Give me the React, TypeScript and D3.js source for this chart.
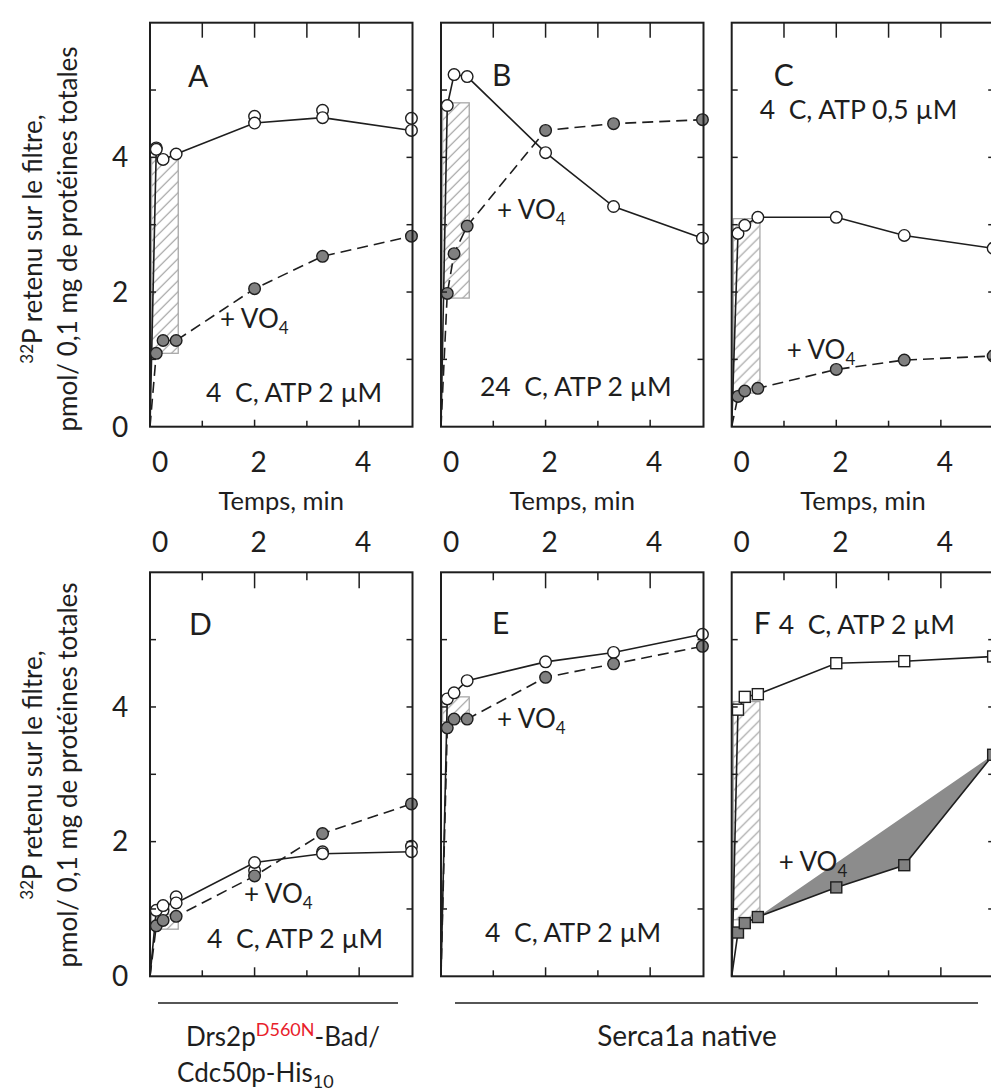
import React from 'react';
import * as d3 from 'd3';

// ---- data ----
const times = [0.12, 0.25, 0.5, 2, 3.3, 5];
const xTicks = [1, 2, 3, 4];
const xMajor = [2, 4];
const xTickLabels = [0, 2, 4];
const yTicks = [1, 2, 3, 4, 5];
const yTickLabels = [0, 2, 4];

const ctrlA = [4.12, 3.97, 4.05, 4.51, 4.59, 4.4];
const repA = [4.14, null, null, 4.61, 4.7, 4.58];
const vo4A = [1.09, 1.28, 1.28, 2.05, 2.53, 2.83];
const hatchA = [1.09, 4.0];

const ctrlB = [4.77, 5.23, 5.2, 4.07, 3.27, 2.8];
const vo4B = [1.98, 2.57, 2.98, 4.4, 4.5, 4.56];
const hatchB = [1.91, 4.81];

const ctrlC = [2.87, 2.99, 3.11, 3.11, 2.84, 2.65];
const vo4C = [0.45, 0.53, 0.57, 0.85, 0.99, 1.05];
const hatchC = [0.5, 3.09];

const ctrlD = [0.98, 1.05, 1.09, 1.69, 1.82, 1.85];
const repD = [null, 0.98, 1.18, 1.57, 1.85, 1.93];
const vo4D = [0.75, 0.83, 0.89, 1.49, 2.12, 2.56];
const hatchD = [0.7, 0.92];

const ctrlE = [4.12, 4.21, 4.39, 4.67, 4.81, 5.08];
const vo4E = [3.69, 3.82, 3.82, 4.44, 4.64, 4.9];
const hatchE = [3.78, 4.15];

const ctrlF = [3.96, 4.15, 4.19, 4.65, 4.68, 4.75];
const vo4F = [0.65, 0.79, 0.88, 1.32, 1.65, 3.29];
const hatchF = [0.84, 4.08];

const hatchX = [0.03, 0.54];

// ---- layout ----
const W = 262.5;
const H = 404;
const colX = [150, 441, 731.7];
const rowY = [22.7, 572.3];
const FONT = 'Lato, "Open Sans", sans-serif';
const INK = '#1e1e1e';

const x = d3.scaleLinear().domain([0, 5.02]).range([0, W]);
const y = d3.scaleLinear().domain([0, 6]).range([H, 0]);

type PanelCfg = {
  letter: string;
  col: number;
  row: number;
  ctrl: number[];
  rep?: (number | null)[];
  vo4: number[];
  hatch: number[];
  square?: boolean;
  vo4Solid?: boolean;
  polygon?: boolean;
  letterPos: [number, number];
  cond: string;
  condPos: [number, number];
  voPos: [number, number];
};

const panels: PanelCfg[] = [
  { letter: 'A', col: 0, row: 0, ctrl: ctrlA, rep: repA, vo4: vo4A, hatch: hatchA,
    letterPos: [38, 64], cond: '4  C, ATP 2 µM', condPos: [56, 379], voPos: [70, 305] },
  { letter: 'B', col: 1, row: 0, ctrl: ctrlB, vo4: vo4B, hatch: hatchB,
    letterPos: [51, 63], cond: '24  C, ATP 2 µM', condPos: [39, 373], voPos: [56, 196] },
  { letter: 'C', col: 2, row: 0, ctrl: ctrlC, vo4: vo4C, hatch: hatchC,
    letterPos: [42, 63], cond: '4  C, ATP 0,5 µM', condPos: [28, 96], voPos: [55, 336] },
  { letter: 'D', col: 0, row: 1, ctrl: ctrlD, rep: repD, vo4: vo4D, hatch: hatchD,
    letterPos: [39, 63], cond: '4  C, ATP 2 µM', condPos: [57, 376], voPos: [94, 331] },
  { letter: 'E', col: 1, row: 1, ctrl: ctrlE, vo4: vo4E, hatch: hatchE,
    letterPos: [51, 62], cond: '4  C, ATP 2 µM', condPos: [44, 370], voPos: [56, 156] },
  { letter: 'F', col: 2, row: 1, ctrl: ctrlF, vo4: vo4F, hatch: hatchF, square: true, vo4Solid: true, polygon: true,
    letterPos: [22, 62], cond: '4  C, ATP 2 µM', condPos: [47, 62], voPos: [47, 299] },
];

const lineGen = d3
  .line<[number, number]>()
  .x((d) => x(d[0]))
  .y((d) => y(d[1]));

function withOrigin(vals: number[]): [number, number][] {
  return [[0, 0] as [number, number]].concat(vals.map((v, i) => [times[i], v] as [number, number]));
}

function Marker({ cx, cy, filled, square }: { cx: number; cy: number; filled: boolean; square?: boolean }) {
  const fill = filled ? '#808080' : '#fff';
  if (square) {
    return <rect x={cx - 5.5} y={cy - 5.5} width={11} height={11} fill={fill} stroke={INK} strokeWidth={1.4} />;
  }
  return <circle cx={cx} cy={cy} r={5.8} fill={fill} stroke={INK} strokeWidth={1.4} />;
}

function VO4({ pos }: { pos: [number, number] }) {
  return (
    <text x={pos[0]} y={pos[1]} fontSize={26} fill={INK} fontFamily={FONT}>
      + VO<tspan fontSize={17} dy={6}>4</tspan>
    </text>
  );
}

function Panel({ p }: { p: PanelCfg }) {
  const ox = colX[p.col];
  const oy = rowY[p.row];
  const topRow = p.row === 0;
  const polyPts = p.vo4.slice(2).map((v, i) => [x(times[i + 2]), y(v)].join(',')).join(' ');
  return (
    <g transform={`translate(${ox},${oy})`}>
      {/* hatched region */}
      <rect
        x={x(hatchX[0])}
        y={y(p.hatch[1])}
        width={x(hatchX[1]) - x(hatchX[0])}
        height={y(p.hatch[0]) - y(p.hatch[1])}
        fill="url(#hatch)"
        stroke="#a8a8a8"
        strokeWidth={1.3}
      />
      {p.polygon && <polygon points={polyPts} fill="#8c8c8c" stroke="none" />}
      {/* lines */}
      <path d={lineGen(withOrigin(p.ctrl)) || ''} fill="none" stroke={INK} strokeWidth={1.6} />
      <path
        d={lineGen(withOrigin(p.vo4)) || ''}
        fill="none"
        stroke={INK}
        strokeWidth={1.6}
        strokeDasharray={p.vo4Solid ? undefined : '11,6'}
      />
      {/* markers */}
      {p.rep &&
        p.rep.map((v, i) =>
          v == null ? null : <Marker key={'r' + i} cx={x(times[i])} cy={y(v)} filled={false} square={p.square} />
        )}
      {p.ctrl.map((v, i) => (
        <Marker key={'c' + i} cx={x(times[i])} cy={y(v)} filled={false} square={p.square} />
      ))}
      {p.vo4.map((v, i) => (
        <Marker key={'v' + i} cx={x(times[i])} cy={y(v)} filled={true} square={p.square} />
      ))}
      {/* frame */}
      <rect x={0} y={0} width={W} height={H} fill="none" stroke={INK} strokeWidth={2} />
      {/* y ticks */}
      {yTicks.map((t) => (
        <g key={'y' + t}>
          <line x1={0} x2={6} y1={y(t)} y2={y(t)} stroke={INK} strokeWidth={1.5} />
          <line x1={W} x2={W - 6} y1={y(t)} y2={y(t)} stroke={INK} strokeWidth={1.5} />
        </g>
      ))}
      {/* x ticks */}
      {xTicks.map((t) => {
        const major = xMajor.includes(t);
        const topLen = topRow ? 15 : major ? 16 : 8;
        const botLen = topRow ? (major ? 7 : 6) : major ? 9 : 6;
        return (
          <g key={'x' + t}>
            <line x1={x(t)} x2={x(t)} y1={0} y2={topLen} stroke={INK} strokeWidth={1.5} />
            <line x1={x(t)} x2={x(t)} y1={H} y2={H - botLen} stroke={INK} strokeWidth={1.5} />
          </g>
        );
      })}
      {/* x tick labels */}
      {xTickLabels.map((t) => (
        <text
          key={'xl' + t}
          x={t === 0 ? 10 : x(t) + 4}
          y={topRow ? H + 45 : -20}
          textAnchor="middle"
          fontSize={28}
          fill={INK}
          fontFamily={FONT}
        >
          {t}
        </text>
      ))}
      {topRow && (
        <text x={W / 2} y={H + 83} textAnchor="middle" fontSize={25.5} fill={INK} fontFamily={FONT}>
          Temps, min
        </text>
      )}
      {/* annotations */}
      <text x={p.letterPos[0]} y={p.letterPos[1]} fontSize={30} fill={INK} fontFamily={FONT}>
        {p.letter}
      </text>
      <text
        x={p.condPos[0]}
        y={p.condPos[1]}
        fontSize={26.5}
        fill={INK}
        fontFamily={FONT}
        style={{ whiteSpace: 'pre' }}
      >
        {p.cond}
      </text>
      <VO4 pos={p.voPos} />
    </g>
  );
}

function YTitle({ cy }: { cy: number }) {
  return (
    <g>
      <text
        transform={`translate(42,${cy}) rotate(-90)`}
        textAnchor="middle"
        fontSize={26}
        fill={INK}
        fontFamily={FONT}
      >
        <tspan fontSize={17} dy={-9}>32</tspan>
        <tspan dy={9}>P retenu sur le filtre,</tspan>
      </text>
      <text
        transform={`translate(77,${cy}) rotate(-90)`}
        textAnchor="middle"
        fontSize={26}
        fill={INK}
        fontFamily={FONT}
      >
        pmol/ 0,1 mg de protéines totales
      </text>
    </g>
  );
}

export default function App() {
  return (
    <svg
      width={991}
      height={1092}
      style={{ position: 'absolute', left: 0, top: 0, background: '#fff' }}
      xmlns="http://www.w3.org/2000/svg"
    >
      <defs>
        <pattern id="hatch" patternUnits="userSpaceOnUse" width={11} height={11}>
          <path d="M0,11 L11,0 M-2,2 L2,-2 M9,13 L13,9" stroke="#9a9a9a" strokeWidth={1.1} />
        </pattern>
      </defs>
      <rect x={0} y={0} width={991} height={1092} fill="#fff" />
      {panels.map((p) => (
        <Panel key={p.letter} p={p} />
      ))}
      {/* y tick labels */}
      {rowY.map((oy, r) =>
        yTickLabels.map((t) => (
          <text
            key={'yl' + r + t}
            x={120}
            y={oy + y(t)}
            dy="0.35em"
            textAnchor="middle"
            fontSize={28}
            fill={INK}
            fontFamily={FONT}
          >
            {t}
          </text>
        ))
      )}
      <YTitle cy={239} />
      <YTitle cy={775} />
      {/* bottom group labels */}
      <line x1={158} x2={398} y1={1003} y2={1003} stroke={INK} strokeWidth={1.5} />
      <line x1={455} x2={978} y1={1003} y2={1003} stroke={INK} strokeWidth={1.5} />
      <text x={283} y={1046} textAnchor="middle" fontSize={26} fill={INK} fontFamily={FONT}>
        Drs2p
        <tspan fill="#e8202a" fontSize={18} dy={-10}>D560N</tspan>
        <tspan dy={10}>-Bad/</tspan>
      </text>
      <text x={177} y={1082} fontSize={26} fill={INK} fontFamily={FONT}>
        Cdc50p-His<tspan fontSize={18} dy={6}>10</tspan>
      </text>
      <text x={687} y={1046} textAnchor="middle" fontSize={28} fill={INK} fontFamily={FONT}>
        Serca1a native
      </text>
    </svg>
  );
}
